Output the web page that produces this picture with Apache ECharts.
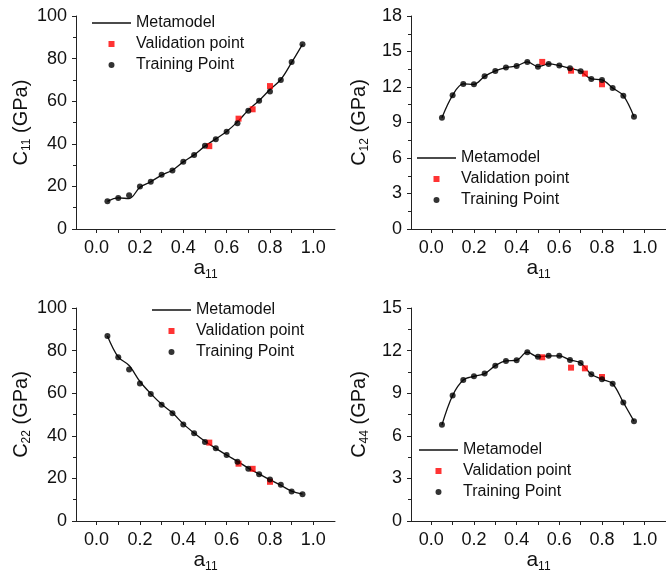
<!DOCTYPE html>
<html>
<head>
<meta charset="utf-8">
<script src="https://cdn.jsdelivr.net/npm/echarts@6/dist/echarts.min.js"></script>
<style>
html,body{margin:0;padding:0;background:#fff;}
#chart{width:666px;height:578px;}
</style>
</head>
<body>
<div id="chart"></div>
<script>
// ---- data ----
const xTrain = [0.05, 0.10, 0.15, 0.20, 0.25, 0.30, 0.35, 0.40, 0.45, 0.50, 0.55, 0.60, 0.65, 0.70, 0.75, 0.80, 0.85, 0.90, 0.95];
const xValid = [0.52, 0.655, 0.72, 0.80];

const c11Train = [13.0, 14.6, 15.8, 19.9, 22.2, 25.5, 27.5, 31.6, 34.7, 39.1, 42.1, 45.7, 49.6, 55.5, 60.2, 64.6, 70.0, 78.4, 86.7];
const c11Valid = [38.9, 51.8, 56.2, 67.1];
const c11Model = [13.0, 14.6, 14.3, 19.6, 22.2, 25.3, 27.6, 31.5, 34.8, 38.9, 42.3, 45.8, 50.3, 55.8, 60.3, 65.5, 70.2, 78.2, 86.7];

const c12Train = [9.41, 11.3, 12.26, 12.23, 12.9, 13.36, 13.64, 13.78, 14.12, 13.72, 13.95, 13.81, 13.58, 13.33, 12.68, 12.6, 11.92, 11.27, 9.49];
const c12Valid = [14.12, 13.38, 13.13, 12.23];
const c12Model = [9.41, 11.3, 12.26, 12.23, 12.9, 13.36, 13.64, 13.78, 14.12, 13.72, 13.95, 13.81, 13.58, 13.33, 12.68, 12.6, 11.92, 11.27, 9.49];

const c22Train = [86.9, 76.9, 71.1, 64.6, 59.6, 54.6, 50.6, 45.3, 41.2, 37.1, 34.1, 31.0, 27.8, 24.5, 22.0, 19.5, 17.0, 13.8, 12.6];
const c22Valid = [36.8, 26.9, 24.5, 18.4];
const c22Model = [86.9, 77.0, 73.0, 65.5, 59.8, 54.8, 50.8, 45.6, 41.3, 37.4, 34.1, 31.0, 28.0, 24.8, 22.0, 19.4, 16.8, 14.0, 12.6];

const c44Train = [6.77, 8.84, 9.93, 10.19, 10.38, 10.94, 11.27, 11.32, 11.89, 11.56, 11.63, 11.63, 11.34, 11.13, 10.33, 9.98, 9.67, 8.35, 7.03];
const c44Valid = [11.53, 10.80, 10.75, 10.14];
const c44Model = [6.77, 8.84, 9.93, 10.19, 10.38, 10.94, 11.27, 11.32, 11.89, 11.56, 11.63, 11.63, 11.34, 11.13, 10.33, 9.98, 9.67, 8.35, 7.03];

const xLabelValues = [0, 0.2, 0.4, 0.6, 0.8, 1.0];
const xTickValues = [0, 0.1, 0.2, 0.3, 0.4, 0.5, 0.6, 0.7, 0.8, 0.9, 1.0];
const yTitles = ['11', '12', '22', '44'];
const yMax = [100, 18, 100, 15];
const yStep = [20, 3, 20, 3];
const legendNames = ['Metamodel', 'Validation point', 'Training Point'];

// ---- build options ----
const FONT = "'Liberation Sans', Arial, sans-serif";
const AX = '#222';
const zip = (xs, ys) => xs.map((x, i) => [x, ys[i]]);

// legend icons drawn inside a fixed 39x14 box (corner specks pin the box size)
const BOX = 'M0 0L0.01 0L0 0.01Z M39 14L38.99 14L39 13.99Z ';
const ICON_LINE = 'path://' + BOX + 'M0 6.35H39V7.65H0Z';
const ICON_SQUARE = 'path://' + BOX + 'M16.5 4H22.5V10H16.5Z';
const ICON_CIRCLE = 'path://' + BOX + 'M16.5 7A3 3 0 1 1 22.5 7A3 3 0 1 1 16.5 7Z';

const panels = [
  {grid: {left: 76, top: 16, width: 259, height: 213}, train: c11Train, valid: c11Valid, model: c11Model, nameGap: 41,
   legLeft: 92, legTop: 23},
  {grid: {left: 411, top: 16, width: 259, height: 213}, train: c12Train, valid: c12Valid, model: c12Model, nameGap: 40,
   legLeft: 417, legTop: 158},
  {grid: {left: 76, top: 308, width: 259, height: 213}, train: c22Train, valid: c22Valid, model: c22Model, nameGap: 41,
   legLeft: 152, legTop: 310},
  {grid: {left: 411, top: 308, width: 259, height: 213}, train: c44Train, valid: c44Valid, model: c44Model, nameGap: 40,
   legLeft: 419, legTop: 450}
];

const grids = [], xAxes = [], yAxes = [], series = [], legends = [];

panels.forEach((p, i) => {
  grids.push(Object.assign({containLabel: false}, p.grid));
  xAxes.push({
    type: 'value', gridIndex: i, min: -0.095, max: 1.1,
    name: '{a|a}{s|11}', nameLocation: 'middle', nameGap: 20,
    nameTextStyle: {color: '#111', rich: {
      a: {fontSize: 21, fontFamily: FONT, color: '#111', lineHeight: 24},
      s: {fontSize: 12, fontFamily: FONT, color: '#111', lineHeight: 8, verticalAlign: 'bottom'}
    }},
    axisLine: {show: true, onZero: false, lineStyle: {color: AX, width: 1}},
    axisTick: {show: true, inside: false, length: 4, customValues: xTickValues, lineStyle: {color: AX}},
    axisLabel: {customValues: xLabelValues, formatter: v => v.toFixed(1), fontSize: 18, fontFamily: FONT, color: '#111', margin: 10},
    splitLine: {show: false}
  });
  yAxes.push({
    type: 'value', gridIndex: i, min: 0, max: yMax[i], interval: yStep[i],
    name: '{a|C}{s|' + yTitles[i] + '}{a| (GPa)}', nameLocation: 'middle', nameGap: p.nameGap, nameRotate: 90,
    nameTextStyle: {color: '#111', rich: {
      a: {fontSize: 20, fontFamily: FONT, color: '#111', lineHeight: 24},
      s: {fontSize: 12, fontFamily: FONT, color: '#111', lineHeight: 8, verticalAlign: 'bottom'}
    }},
    axisLine: {show: true, onZero: false, lineStyle: {color: AX, width: 1}},
    axisTick: {show: true, inside: false, length: 4, lineStyle: {color: AX}},
    minorTick: {show: true, splitNumber: 2, length: 3, lineStyle: {color: AX}},
    axisLabel: {fontSize: 18, fontFamily: FONT, color: '#111', margin: 9},
    splitLine: {show: false}
  });
  series.push({
    name: legendNames[0], type: 'line', xAxisIndex: i, yAxisIndex: i,
    data: zip(xTrain, p.model), smooth: 0.35, symbol: 'none',
    lineStyle: {color: '#111', width: 1.3}, itemStyle: {color: '#111'}, z: 2, silent: true
  });
  series.push({
    name: legendNames[1], type: 'scatter', xAxisIndex: i, yAxisIndex: i,
    data: zip(xValid, p.valid), symbol: 'rect', symbolSize: 6,
    itemStyle: {color: '#ff0000'}, z: 3, silent: true
  });
  series.push({
    name: legendNames[2], type: 'scatter', xAxisIndex: i, yAxisIndex: i,
    data: zip(xTrain, p.train), symbol: 'circle', symbolSize: 6,
    itemStyle: {color: '#000'}, z: 4, silent: true
  });
  legends.push({
    orient: 'vertical', padding: 0, left: p.legLeft, top: p.legTop - 8,
    itemWidth: 39, itemHeight: 14, itemGap: 5, selectedMode: false, symbolKeepAspect: false,
    textStyle: {fontSize: 16, lineHeight: 16, fontFamily: FONT, color: '#111'},
    data: [
      {name: legendNames[0], icon: ICON_LINE, itemStyle: {color: '#111'}},
      {name: legendNames[1], icon: ICON_SQUARE, itemStyle: {color: '#ff0000'}},
      {name: legendNames[2], icon: ICON_CIRCLE, itemStyle: {color: '#000'}}
    ]
  });
});

const chart = echarts.init(document.getElementById('chart'), null, {renderer: 'canvas'});
chart.setOption({
  backgroundColor: '#fff',
  animation: false,
  grid: grids, xAxis: xAxes, yAxis: yAxes, series: series, legend: legends
});
</script>
</body>
</html>
